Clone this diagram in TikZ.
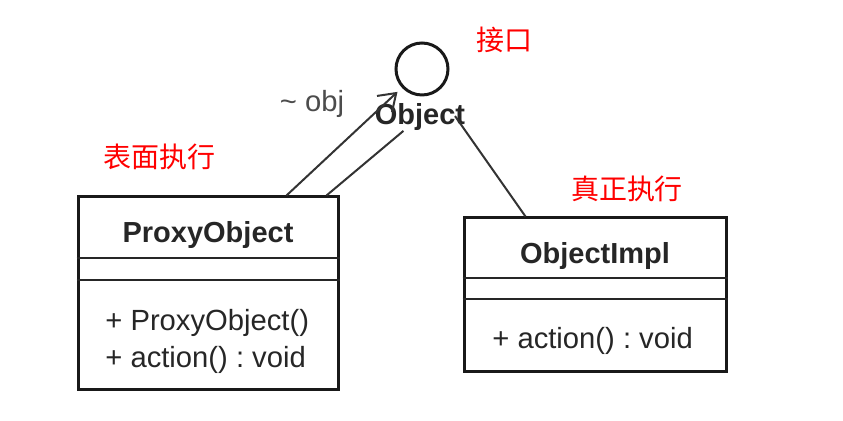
\documentclass[tikz,border=0pt]{standalone}
\usepackage{fontspec}
\setmainfont{Liberation Sans}
\newfontfamily\cjk{Noto Sans CJK SC}
\usetikzlibrary{arrows.meta,calc}
\frenchspacing

\begin{document}
\begin{tikzpicture}[
  x=0.5pt,y=-0.5pt,
  classbox/.style={draw=black!90,line width=1.5pt,inner sep=0pt},
  sepline/.style={draw=black!85,line width=1pt},
  title/.style={font=\fontsize{14.5}{16}\selectfont\bfseries,text=black!85},
  member/.style={font=\fontsize{14.6}{16}\selectfont,text=black!85,anchor=west,inner sep=0pt},
  note/.style={font=\cjk\fontsize{14}{16}\selectfont,text=red},
  conn/.style={line width=1pt,draw=black!80},
  arr/.style={conn,-{Straight Barb[length=8pt,width=11pt]}}
]
\useasboundingbox (0,0) rectangle (843,421);

% interface (lollipop)
\node[circle,draw=black!90,line width=1.5pt,minimum size=26pt,inner sep=0pt] (iface) at (422,69) {};
\node[title,inner sep=0pt] (objlabel) at (420,117) {Object};
\node[member,anchor=center,text=black!70] (objrole) at (312,104) {\textasciitilde{} obj};

% ProxyObject class
\node[classbox,minimum width=130pt,minimum height=96.5pt] (proxy) at (208,293.5) {};
\draw[sepline] ($(proxy.north west)+(0,63)$) -- ($(proxy.north east)+(0,63)$);
\draw[sepline] ($(proxy.north west)+(0,85)$) -- ($(proxy.north east)+(0,85)$);
\node[title] (proxytitle) at ($(proxy.north)+(0,40)$) {ProxyObject};
\node[member] (proxyctor) at (105,323) {+ ProxyObject()};
\node[member] (proxyaction) at (105,360) {+ action() : void};

% ObjectImpl class
\node[classbox,minimum width=131pt,minimum height=77pt] (impl) at (595,295) {};
\draw[sepline] ($(impl.north west)+(0,62)$) -- ($(impl.north east)+(0,62)$);
\draw[sepline] ($(impl.north west)+(0,83)$) -- ($(impl.north east)+(0,83)$);
\node[title] (impltitle) at ($(impl.north)+(0,40)$) {ObjectImpl};
\node[member] (implaction) at (492,341) {+ action() : void};

% notes
\node[note] (ifacenote) at (504,40) {接口};
\node[note] (proxynote) at (160,157) {表面执行};
\node[note] (implnote) at (627,189) {真正执行};

% connectors
\coordinate (p1) at ($(proxy.north west)+(210,0)$);
\coordinate (p2) at ($(proxy.north west)+(250,0)$);
\coordinate (p3) at ($(impl.north west)+(63,0)$);
\draw[arr,shorten >=3pt] (p1) -- (iface);
\draw[conn] (p2) -- (objlabel);
\draw[conn,shorten >=15pt] (p3) -- (iface);
\end{tikzpicture}
\end{document}
